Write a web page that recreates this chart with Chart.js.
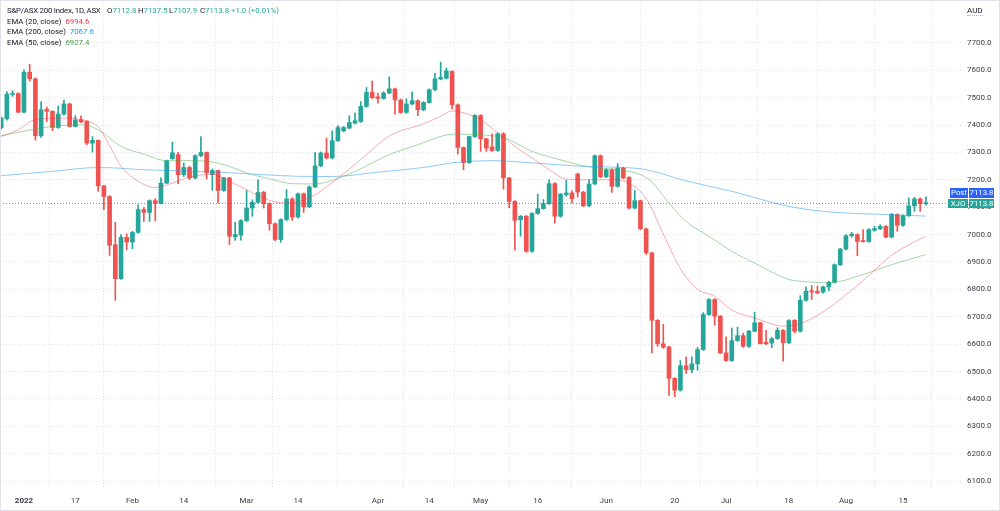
<!DOCTYPE html>
<html>
<head>
<meta charset="utf-8">
<script src="https://cdn.jsdelivr.net/npm/chart.js@4/dist/chart.umd.min.js"></script>
<style>
  html, body { margin: 0; padding: 0; background: #fff; }
  #wrap { position: relative; width: 1000px; height: 511px; font-family: Roboto, "Liberation Sans", sans-serif; color: #131722; }
  #myChart { position: absolute; left: 0; top: 0; }
  .frame { position: absolute; left: 0; top: 0; width: 1000px; height: 511px; box-sizing: border-box; border: 1px solid #e0e3eb; pointer-events: none; }
  .legend { position: absolute; left: 7px; top: 6px; font-size: 7.8px; line-height: 10.6px; white-space: nowrap; }
  .legend .row { position: relative; height: 10.6px; }
  .legend .abs { position: absolute; top: 0; }
  .legend .name { letter-spacing: -0.2px; }
  .up { color: #26a69a; }
  .unit { position: absolute; left: 967px; top: 6px; font-size: 8px; color: #131722; border-bottom: 1px dotted #b2b5be; line-height: 9px; }
  .tag { position: absolute; height: 9.5px; line-height: 9.5px; font-size: 7.8px; color: #fff; text-align: center; }
</style>
</head>
<body>
<div id="wrap">
  <canvas id="myChart" width="1000" height="511"></canvas>
  <div class="frame"></div>
  <div class="legend" id="legend"></div>
  <div class="unit">AUD</div>
  <div class="tag" id="tagPost" style="left:950px; top:188px; width:18px; background:#2962ff;">Post</div>
  <div class="tag" id="tagPostVal" style="left:969px; top:188px; width:25px; background:#2962ff;"></div>
  <div class="tag" id="tagSym" style="left:948px; top:198.5px; width:20px; background:#26a69a;">XJO</div>
  <div class="tag" id="tagSymVal" style="left:969px; top:198.5px; width:25px; background:#26a69a;"></div>
</div>
<script>
// daily bars, 24 Dec 2021 .. 19 Aug 2022 (index = trading day)
const open = [
  7390, 7423, 7512, 7515, 7447, 7593, 7569, 7361, 7457, 7450,
  7391, 7440, 7477, 7395, 7419, 7413, 7334, 7344, 7178, 7139,
  6963, 6839, 6990, 6973, 7008, 7091, 7081, 7124, 7114, 7188,
  7277, 7292, 7219, 7245, 7207, 7288, 7300, 7220, 7234, 7161,
  7207, 6992, 6998, 7051, 7097, 7118, 7154, 7113, 7040, 6982,
  7055, 7130, 7064, 7149, 7101, 7174, 7251, 7298, 7280, 7343,
  7379, 7389, 7407, 7413, 7468, 7519, 7503, 7497, 7517, 7532,
  7492, 7446, 7477, 7489, 7456, 7482, 7529, 7568, 7571, 7596,
  7474, 7318, 7263, 7358, 7435, 7350, 7320, 7307, 7368, 7207,
  7121, 7054, 7067, 6939, 7077, 7095, 7113, 7186, 7067, 7146,
  7152, 7221, 7155, 7105, 7185, 7288, 7211, 7237, 7176, 7243,
  7209, 7097, 7124, 7021, 6933, 6687, 6601, 6590, 6475, 6432,
  6521, 6507, 6528, 6580, 6708, 6763, 6702, 6568, 6540, 6613,
  6631, 6592, 6647, 6678, 6607, 6604, 6620, 6650, 6605, 6687,
  6647, 6760, 6795, 6793, 6790, 6809, 6826, 6890, 6947, 6996,
  7000, 6978, 6975, 7016, 7022, 7030, 6991, 7073, 7034, 7069,
  7105, 7130, 7112.8
];
const high = [
  7430, 7522, 7525, 7518, 7602, 7622, 7572, 7486, 7466, 7452,
  7470, 7491, 7480, 7434, 7434, 7416, 7358, 7346, 7180, 7142,
  7045, 7000, 7003, 7012, 7109, 7099, 7127, 7131, 7207, 7272,
  7338, 7300, 7261, 7250, 7292, 7358, 7302, 7240, 7236, 7209,
  7209, 7045, 7055, 7161, 7127, 7200, 7158, 7116, 7043, 7058,
  7164, 7135, 7152, 7152, 7178, 7300, 7302, 7352, 7379, 7398,
  7395, 7434, 7444, 7486, 7537, 7561, 7517, 7522, 7576, 7535,
  7495, 7496, 7520, 7492, 7486, 7532, 7589, 7630, 7608, 7598,
  7477, 7320, 7360, 7438, 7438, 7352, 7368, 7372, 7372, 7209,
  7124, 7070, 7070, 7080, 7148, 7128, 7200, 7190, 7150, 7198,
  7160, 7225, 7158, 7200, 7291, 7291, 7240, 7240, 7259, 7246,
  7212, 7161, 7126, 7024, 6936, 6690, 6672, 6592, 6478, 6540,
  6554, 6554, 6588, 6715, 6766, 6766, 6705, 6627, 6659, 6662,
  6640, 6650, 6717, 6680, 6650, 6624, 6660, 6653, 6690, 6690,
  6777, 6809, 6814, 6812, 6812, 6830, 6893, 6950, 7000, 7008,
  7003, 7018, 7022, 7030, 7036, 7033, 7078, 7076, 7072, 7134,
  7136, 7134, 7137.5
];
const low = [
  7385, 7418, 7505, 7445, 7445, 7560, 7345, 7355, 7413, 7379,
  7388, 7436, 7392, 7393, 7409, 7328, 7301, 7158, 7091, 6924,
  6760, 6836, 6945, 6948, 7005, 7048, 7048, 7050, 7112, 7186,
  7275, 7186, 7212, 7200, 7203, 7285, 7203, 7162, 7115, 7158,
  6963, 6979, 6980, 7048, 7067, 7115, 7097, 7016, 6978, 6972,
  7050, 7052, 7060, 7081, 7098, 7172, 7248, 7276, 7276, 7340,
  7375, 7386, 7404, 7410, 7465, 7497, 7480, 7494, 7514, 7440,
  7443, 7443, 7474, 7434, 7452, 7480, 7526, 7565, 7568, 7459,
  7294, 7237, 7260, 7355, 7304, 7304, 7304, 7304, 7166, 7097,
  6943, 6994, 6935, 6935, 7074, 7092, 7110, 7042, 7063, 7140,
  7115, 7137, 7102, 7102, 7182, 7208, 7208, 7154, 7173, 7204,
  7094, 7094, 7018, 6928, 6568, 6592, 6585, 6413, 6408, 6428,
  6493, 6495, 6505, 6577, 6705, 6669, 6565, 6537, 6537, 6610,
  6588, 6588, 6645, 6600, 6598, 6587, 6617, 6538, 6602, 6641,
  6644, 6757, 6763, 6785, 6786, 6795, 6823, 6887, 6944, 6990,
  6923, 6972, 6972, 7012, 7018, 6988, 6988, 7012, 7030, 7066,
  7085, 7085, 7107.9
];
const close = [
  7426, 7513, 7515, 7447, 7593, 7569, 7361, 7456, 7450, 7391,
  7440, 7477, 7395, 7419, 7411, 7334, 7344, 7178, 7139, 6961,
  6839, 6990, 6973, 7008, 7091, 7081, 7124, 7114, 7188, 7270,
  7299, 7219, 7245, 7207, 7288, 7300, 7225, 7234, 7161, 7207,
  6994, 7000, 7051, 7097, 7118, 7154, 7113, 7040, 6982, 7055,
  7130, 7064, 7149, 7101, 7174, 7251, 7298, 7280, 7343, 7391,
  7391, 7409, 7416, 7468, 7519, 7500, 7497, 7517, 7532, 7492,
  7446, 7477, 7489, 7456, 7482, 7529, 7569, 7574, 7598, 7474,
  7318, 7263, 7358, 7435, 7350, 7316, 7307, 7368, 7207, 7121,
  7052, 7067, 6939, 7077, 7095, 7113, 7186, 7067, 7148, 7152,
  7131, 7155, 7105, 7185, 7288, 7211, 7237, 7176, 7243, 7207,
  7097, 7124, 7021, 6933, 6687, 6601, 6589, 6475, 6432, 6521,
  6507, 6528, 6580, 6708, 6763, 6702, 6568, 6540, 6613, 6631,
  6592, 6647, 6678, 6602, 6601, 6620, 6650, 6605, 6686, 6647,
  6760, 6793, 6790, 6787, 6809, 6826, 6890, 6947, 6996, 7002,
  6975, 6974, 7018, 7022, 7030, 6991, 7073, 7034, 7069, 7105,
  7130, 7112.8, 7113.8
];

// EMA lines at sample bars
const ema20Bars = [0, 3, 6, 11, 14, 17, 19, 21, 24, 27, 30, 33, 37, 40, 43, 47, 50, 52, 55, 57, 60, 64, 68, 74, 77, 79, 81, 84, 87, 90, 93, 96, 99, 103, 107, 110, 113, 116, 119, 122, 125, 128, 132, 137, 140, 144, 148, 152, 156, 162];
const ema20Vals = [7358, 7383, 7420, 7425, 7420, 7393, 7325, 7250, 7195, 7172, 7188, 7210, 7220, 7195, 7164, 7125, 7115, 7120, 7145, 7175, 7222, 7292, 7360, 7405, 7432, 7452, 7445, 7419, 7371, 7322, 7280, 7237, 7203, 7200, 7200, 7188, 7132, 7002, 6876, 6800, 6775, 6724, 6696, 6666, 6675, 6718, 6780, 6850, 6925, 6994.6];
const ema50Bars = [0, 3, 9, 14, 17, 21, 25, 29, 33, 37, 40, 43, 47, 51, 55, 58, 62, 68, 73, 78, 80, 86, 88, 93, 98, 103, 108, 112, 114, 117, 120, 124, 128, 132, 138, 140, 145, 151, 156, 162];
const ema50Vals = [7361, 7374, 7395, 7401, 7383, 7322, 7294, 7270, 7270, 7265, 7249, 7225, 7204, 7186, 7185, 7198, 7231, 7292, 7328, 7364, 7367, 7361, 7355, 7304, 7273, 7247, 7237, 7219, 7192, 7115, 7048, 6994, 6939, 6896, 6836, 6830, 6824, 6854, 6890, 6927.4];
const ema200Bars = [0, 9, 17, 26, 38, 45, 52, 58, 66, 75, 79, 86, 93, 101, 108, 113, 120, 128, 138, 145, 154, 162];
const ema200Vals = [7215, 7231, 7245, 7236, 7228, 7220, 7213, 7212, 7228, 7248, 7262, 7270, 7262, 7250, 7246, 7237, 7196, 7158, 7103, 7083, 7074, 7067.6];

// axis ticks
const xTickBars = [4, 13, 23, 32, 43, 52, 66, 75, 84, 94, 106, 118, 127, 138, 148, 158];
const xTickLabels = ["2022", "17", "Feb", "14", "Mar", "14", "Apr", "14", "May", "16", "Jun", "20", "Jul", "18", "Aug", "15"];
const yTicks = [6100, 6200, 6300, 6400, 6500, 6600, 6700, 6800, 6900, 7000, 7100, 7200, 7300, 7400, 7500, 7600, 7700];

const UP = '#26a69a';
const DOWN = '#ef5350';

function pairs(bars, vals) {
    return bars.map((b, i) => ({ x: b, y: vals[i] }));
}

function candleColor(i) {
    return close[i] >= open[i] ? UP : DOWN;
}

const last = close.length - 1;
const change = close[last] - close[last - 1];
const changePct = change / close[last - 1] * 100;

// legend (html text)
const legend = document.getElementById('legend');
legend.innerHTML =
    '<div class="row"><span class="name">S&amp;P/ASX 200 Index, 1D, ASX</span>' +
    '<span class="abs" style="left:100px">O<span class="up">' + open[last].toFixed(1) + '</span></span>' +
    '<span class="abs" style="left:131px">H<span class="up">' + high[last].toFixed(1) + '</span></span>' +
    '<span class="abs" style="left:162px">L<span class="up">' + low[last].toFixed(1) + '</span></span>' +
    '<span class="abs" style="left:193px">C<span class="up">' + close[last].toFixed(1) + '</span></span>' +
    '<span class="abs up" style="left:224px">+' + change.toFixed(1) + ' (+' + changePct.toFixed(2) + '%)</span></div>' +
    '<div class="row">EMA (20, close) <span style="color:#f23645;margin-left:2px">' + ema20Vals[ema20Vals.length - 1].toFixed(1) + '</span></div>' +
    '<div class="row">EMA (200, close) <span style="color:#2196f3;margin-left:2px">' + ema200Vals[ema200Vals.length - 1].toFixed(1) + '</span></div>' +
    '<div class="row">EMA (50, close) <span style="color:#43a047;margin-left:2px">' + ema50Vals[ema50Vals.length - 1].toFixed(1) + '</span></div>';
document.getElementById('tagPostVal').textContent = close[last].toFixed(1);
document.getElementById('tagSymVal').textContent = close[last].toFixed(1);

const wicks = close.map((c, i) => ({ x: i, y: [low[i], high[i]] }));
const bodies = close.map((c, i) => ({ x: i, y: [Math.min(open[i], c), Math.max(open[i], c)] }));

const X_MIN = -0.2, X_MAX = 168.33;
const Y_MIN = 6074.6, Y_MAX = 7856.7;

const ctx = document.getElementById('myChart');
new Chart(ctx, {
    type: 'bar',
    data: {
        datasets: [
            {
                type: 'line', label: 'EMA 20', data: pairs(ema20Bars, ema20Vals), order: 0,
                borderColor: 'rgba(242,54,69,0.42)', borderWidth: 1, pointRadius: 0,
                cubicInterpolationMode: 'monotone'
            },
            {
                type: 'line', label: 'EMA 50', data: pairs(ema50Bars, ema50Vals), order: 0,
                borderColor: 'rgba(76,175,80,0.5)', borderWidth: 1, pointRadius: 0,
                cubicInterpolationMode: 'monotone'
            },
            {
                type: 'line', label: 'EMA 200', data: pairs(ema200Bars, ema200Vals), order: 0,
                borderColor: 'rgba(33,150,243,0.5)', borderWidth: 1, pointRadius: 0,
                cubicInterpolationMode: 'monotone'
            },
            {
                type: 'line', label: 'last', data: [{ x: X_MIN, y: close[last] }, { x: X_MAX, y: close[last] }], order: 1,
                borderColor: 'rgba(41,98,255,0.75)', borderWidth: 1, borderDash: [1, 2], pointRadius: 0
            },
            {
                label: 'body', data: bodies, order: 2, grouped: false,
                barThickness: 4, minBarLength: 1,
                backgroundColor: c => candleColor(c.dataIndex)
            },
            {
                label: 'wick', data: wicks, order: 3, grouped: false,
                barThickness: 1,
                backgroundColor: c => candleColor(c.dataIndex)
            }
        ]
    },
    options: {
        responsive: false,
        animation: false,
        layout: { padding: 0 },
        plugins: { legend: { display: false }, tooltip: { enabled: false } },
        scales: {
            x: {
                type: 'linear', min: X_MIN, max: X_MAX, offset: false,
                grid: { color: '#e0e3eb', drawTicks: false },
                border: { display: false, dash: [1, 2] },
                afterBuildTicks: s => { s.ticks = xTickBars.map(v => ({ value: v })); },
                afterFit: s => { s.height = 23; s.paddingLeft = 0; s.paddingRight = 0; },
                ticks: {
                    padding: 8, maxRotation: 0, autoSkip: false, color: '#3a3d46',
                    font: c => ({ family: 'Roboto', size: 8, weight: c.index === 0 ? 'bold' : 'normal' }),
                    callback: (v, i) => xTickLabels[i]
                }
            },
            y: {
                position: 'right', min: Y_MIN, max: Y_MAX,
                grid: { color: '#e0e3eb', drawTicks: false },
                border: { display: false, dash: [1, 2] },
                afterBuildTicks: s => { s.ticks = yTicks.map(v => ({ value: v })); },
                afterFit: s => { s.width = 38; s.paddingTop = 0; s.paddingBottom = 0; },
                ticks: {
                    padding: 5, crossAlign: 'near', color: '#3a3d46',
                    font: { family: 'Roboto', size: 8 },
                    callback: v => v.toFixed(1)
                }
            }
        }
    }
});
</script>
</body>
</html>
